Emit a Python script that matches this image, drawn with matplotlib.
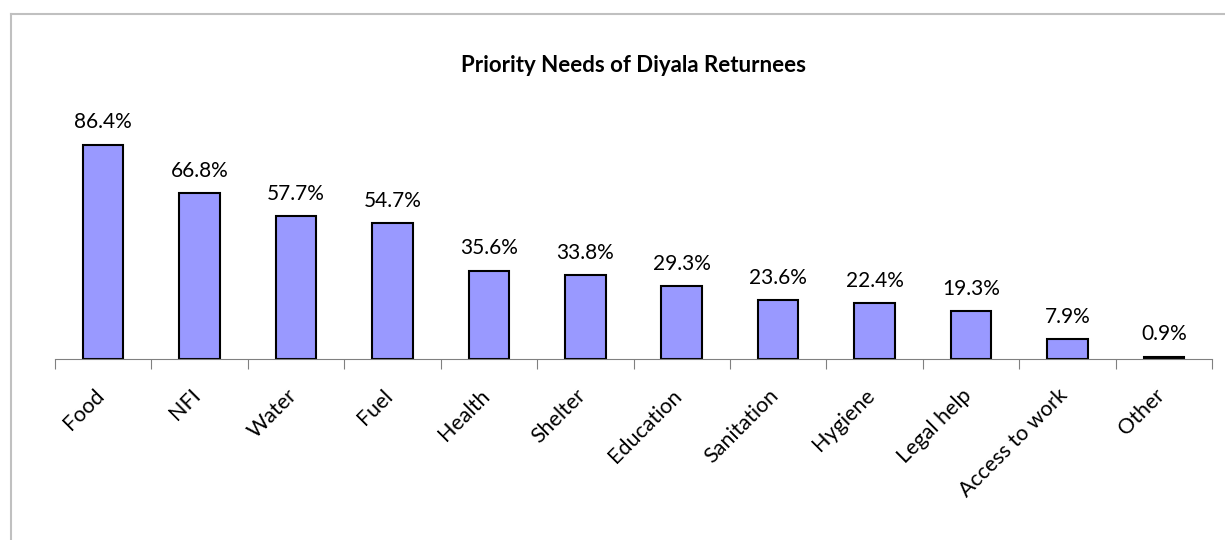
import matplotlib.pyplot as plt
from matplotlib.lines import Line2D

plt.rcParams['font.family'] = ['Lato', 'DejaVu Sans']

needs = ['Food', 'NFI', 'Water', 'Fuel', 'Health', 'Shelter', 'Education',
         'Sanitation', 'Hygiene', 'Legal help', 'Access to work', 'Other']
shares = [86.4, 66.8, 57.7, 54.7, 35.6, 33.8, 29.3, 23.6, 22.4, 19.3, 7.9, 0.9]

fig = plt.figure(figsize=(12.25, 5.4), dpi=100)
ax = fig.add_axes([0.0449, 0.3352, 0.9445, 0.459])

x = range(len(needs))
bars = ax.bar(x, shares, width=0.42, color='#9999FF', edgecolor='black', linewidth=1.5)
for b, v in zip(bars, shares):
    ax.text(b.get_x() + b.get_width() / 2, v + 5, f'{v}%', ha='center', va='bottom', fontsize=15)

ax.set_xlim(-0.5, len(needs) - 0.5)
ax.set_ylim(0, 100)
for s in ['top', 'right', 'left']:
    ax.spines[s].set_visible(False)
ax.spines['bottom'].set_color('#808080')
ax.set_yticks([])

# ticks between categories, labels at centers
ax.set_xticks([i - 0.5 for i in range(len(needs) + 1)], minor=False)
ax.set_xticklabels([])
ax.tick_params(axis='x', length=7, color='#808080', direction='out')
for i, n in enumerate(needs):
    ax.annotate(n, xy=(i, 0), xycoords=('data', 'axes fraction'), xytext=(-7, -19),
                textcoords='offset points', rotation=45, ha='right', va='top',
                rotation_mode='anchor', fontsize=15.5)

ax.set_title('Priority Needs of Diyala Returnees', fontsize=16, fontweight='bold', pad=28)

# outer chart frame (top and left edges only visible)
fig.add_artist(Line2D([11 / 1225, 1], [1 - 14 / 540, 1 - 14 / 540], color='#C0C0C0', lw=1.5))
fig.add_artist(Line2D([11 / 1225, 11 / 1225], [0, 1 - 14 / 540], color='#C0C0C0', lw=1.5))

fig.savefig('out.png', dpi=100)
